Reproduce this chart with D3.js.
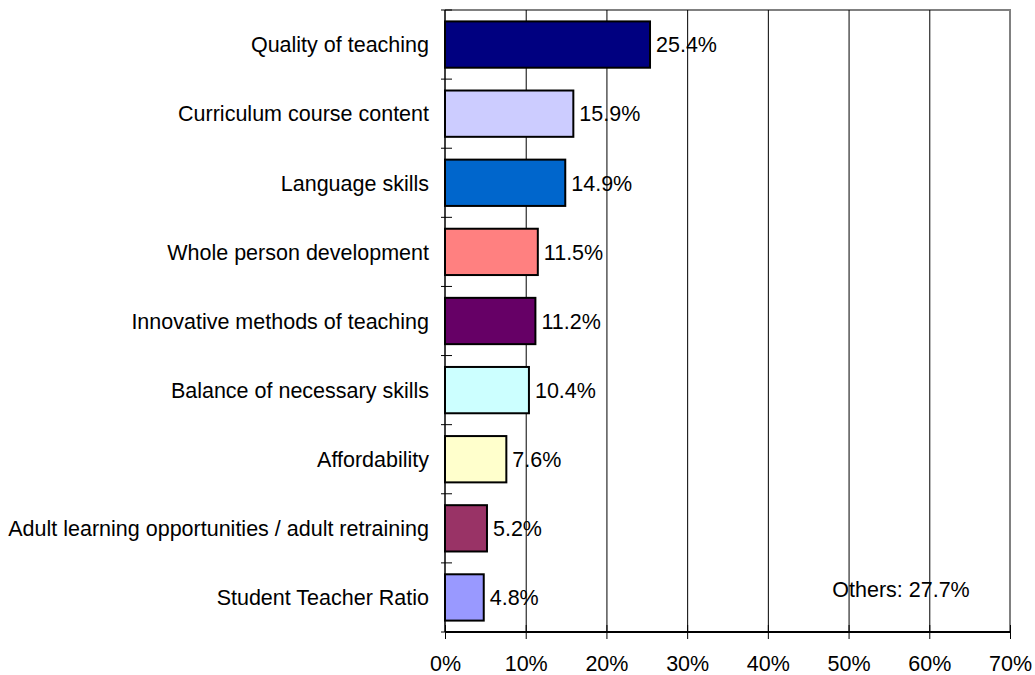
<!DOCTYPE html>
<html>
<head>
<meta charset="utf-8">
<script src="https://cdnjs.cloudflare.com/ajax/libs/d3/7.8.5/d3.min.js"></script>
<style>
  body { margin: 0; background: #fff; }
  text { font-family: "Liberation Sans", Arial, sans-serif; fill: #000; }
</style>
</head>
<body>
<div id="chart"></div>
<script>
var categories = ["Quality of teaching", "Curriculum course content", "Language skills",
  "Whole person development", "Innovative methods of teaching", "Balance of necessary skills",
  "Affordability", "Adult learning opportunities / adult retraining", "Student Teacher Ratio"];
var values = [25.4, 15.9, 14.9, 11.5, 11.2, 10.4, 7.6, 5.2, 4.8];
var colors = ["#000080", "#CCCCFF", "#0066CC", "#FF8080", "#660066", "#CCFFFF", "#FFFFCC", "#993366", "#9999FF"];
var tickValues = [0, 10, 20, 30, 40, 50, 60, 70];
var othersNote = "Others: 27.7%";

var width = 1035, height = 675;
var pLeft = 445, pRight = 1010, pTop = 10, pBottom = 632;
var fs = 21.5;

var svg = d3.select("#chart").append("svg")
    .attr("width", width)
    .attr("height", height);

var x = d3.scaleLinear().domain([0, 70]).range([pLeft, pRight]);
var y = d3.scaleBand().domain(categories).range([pTop, pBottom]).paddingInner(0.33).paddingOuter(0.165);
var yb = d3.scaleBand().domain(categories).range([pTop, pBottom]);

// plot border (gray top/right)
svg.append("path")
    .attr("d", "M" + pLeft + "," + pTop + "H" + pRight + "V" + pBottom)
    .attr("fill", "none")
    .attr("stroke", "#808080")
    .attr("stroke-width", 2);

// gridlines
svg.append("g").selectAll("line")
    .data(tickValues.slice(1, -1))
    .join("line")
    .attr("x1", d => x(d) + 0.5).attr("x2", d => x(d) + 0.5)
    .attr("y1", pTop).attr("y2", pBottom)
    .attr("stroke", "#000").attr("stroke-width", 1);

// bars
svg.append("g").selectAll("rect")
    .data(values)
    .join("rect")
    .attr("x", x(0))
    .attr("y", (d, i) => y(categories[i]))
    .attr("width", d => x(d) - x(0))
    .attr("height", y.bandwidth())
    .attr("fill", (d, i) => colors[i])
    .attr("stroke", "#000")
    .attr("stroke-width", 2);

// value labels
svg.append("g").selectAll("text")
    .data(values)
    .join("text")
    .attr("x", d => x(d) + 6)
    .attr("y", (d, i) => y(categories[i]) + y.bandwidth() / 2)
    .attr("dy", "0.36em")
    .attr("font-size", fs)
    .text(d => d.toFixed(1) + "%");

// x axis
var xAxis = d3.axisBottom(x)
    .tickValues(tickValues)
    .tickFormat(d => d + "%")
    .tickSize(7)
    .tickPadding(17);
var gx = svg.append("g")
    .attr("transform", "translate(0," + pBottom + ")")
    .call(xAxis);
gx.select(".domain").attr("stroke", "#000").attr("stroke-width", 2).attr("d", "M" + pLeft + ",0H" + pRight);
gx.selectAll(".tick line").attr("y1", -7).attr("stroke", "#000");
gx.selectAll(".tick text").attr("font-size", fs).attr("font-family", "Liberation Sans, Arial, sans-serif");

// y axis with crossing ticks on band boundaries
var gy = svg.append("g").attr("transform", "translate(" + pLeft + ",0)");
gy.append("line")
    .attr("x1", 0).attr("x2", 0).attr("y1", pTop).attr("y2", pBottom)
    .attr("stroke", "#000").attr("stroke-width", 1.5);
gy.selectAll(".btick")
    .data(categories.concat(["end"]))
    .join("line")
    .attr("class", "btick")
    .attr("x1", -4).attr("x2", 7)
    .attr("y1", (d, i) => i < categories.length ? yb(d) : pBottom)
    .attr("y2", (d, i) => i < categories.length ? yb(d) : pBottom)
    .attr("stroke", "#000");
gy.selectAll(".cat")
    .data(categories)
    .join("text")
    .attr("class", "cat")
    .attr("x", -16)
    .attr("y", d => y(d) + y.bandwidth() / 2)
    .attr("dy", "0.36em")
    .attr("text-anchor", "end")
    .attr("font-size", fs)
    .text(d => d);

// others note
svg.append("text")
    .attr("x", 901)
    .attr("y", 589)
    .attr("dy", "0.36em")
    .attr("text-anchor", "middle")
    .attr("font-size", fs)
    .text(othersNote);
</script>
</body>
</html>
